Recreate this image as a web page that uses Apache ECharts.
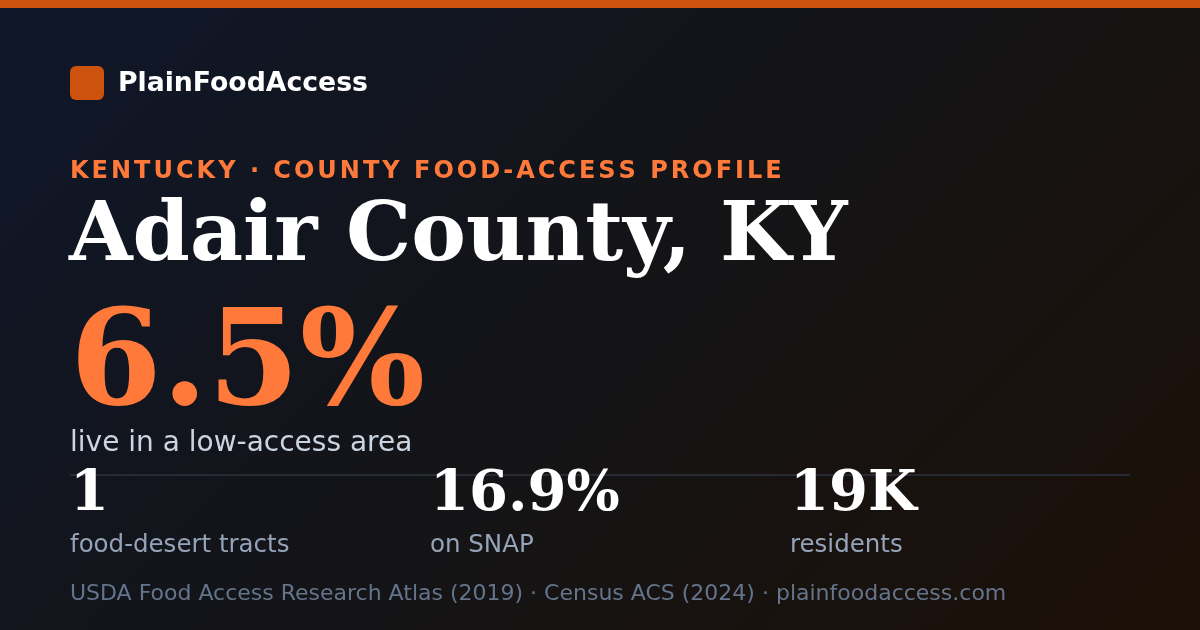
<!DOCTYPE html>
<html>
<head>
<meta charset="utf-8">
<title>Adair County, KY</title>
<script src="https://cdn.jsdelivr.net/npm/echarts@6/dist/echarts.min.js"></script>
<style>
  html, body { margin: 0; padding: 0; background: #0f172a; }
  #card { width: 1200px; height: 630px; }
</style>
</head>
<body>
<div id="card"></div>
<script>
// card content
var brandName = 'PlainFoodAccess';
var kickerText = 'KENTUCKY · COUNTY FOOD-ACCESS PROFILE';
var countyName = 'Adair County, KY';
var headlineValue = '6.5%';
var headlineLabel = 'live in a low-access area';
var statValues = ['1', '16.9%', '19K'];
var statLabels = ['food-desert tracts', 'on SNAP', 'residents'];
var sourceNote = 'USDA Food Access Research Atlas (2019) · Census ACS (2024) · plainfoodaccess.com';

var ORANGE = '#ff7a3a';
var BRAND_ORANGE = '#cc520e';
var SANS = '"DejaVu Sans", sans-serif';
var SERIF = '"DejaVu Serif", serif';

var chart = echarts.init(document.getElementById('card'), null, { renderer: 'canvas' });

// letter-spaced text: place every glyph as its own text element
function spacedText(str, x, y, font, spacing, color) {
    var ctx = document.createElement('canvas').getContext('2d');
    ctx.font = font;
    var out = [];
    var cx = x;
    for (var i = 0; i < str.length; i++) {
        var ch = str.charAt(i);
        if (ch !== ' ') {
            out.push({
                type: 'text', x: cx, y: y,
                style: { text: ch, font: font, fill: color, verticalAlign: 'middle', align: 'left' }
            });
        }
        cx += ctx.measureText(ch).width + spacing;
    }
    return out;
}

function txt(str, x, y, font, color) {
    return {
        type: 'text', x: x, y: y,
        style: { text: str, font: font, fill: color, verticalAlign: 'middle', align: 'left' }
    };
}

var elements = [
    { type: 'rect', shape: { x: 0, y: 0, width: 1200, height: 8 }, style: { fill: BRAND_ORANGE } },
    { type: 'rect', shape: { x: 70, y: 66, width: 34, height: 34, r: 6 }, style: { fill: BRAND_ORANGE } },
    txt(brandName, 118, 84, 'bold 26.7px ' + SANS, '#ffffff'),
    txt(countyName, 69, 239, 'bold 82px ' + SERIF, '#ffffff'),
    txt(headlineValue, 70, 370, 'bold 132px ' + SERIF, ORANGE),
    txt(headlineLabel, 70, 444, '28px ' + SANS, '#cbd5e1'),
    { type: 'line', shape: { x1: 70, y1: 475, x2: 1130, y2: 475 }, style: { stroke: '#262a33', lineWidth: 2 } },
    txt(sourceNote, 70, 594, '22px ' + SANS, '#64748b')
];
elements = elements.concat(spacedText(kickerText, 70, 171.5, 'bold 24px ' + SANS, 3.0, ORANGE));

for (var i = 0; i < statValues.length; i++) {
    var sx = 70 + i * 360;
    elements.push(txt(statValues[i], sx, 495.5, 'bold 56px ' + SERIF, '#ffffff'));
    elements.push(txt(statLabels[i], sx, 546, '24.5px ' + SANS, '#94a3b8'));
}

var option = {
    // 135deg page gradient, in pixel coordinates
    backgroundColor: {
        type: 'linear', global: true,
        x: 142, y: -142, x2: 1058, y2: 772,
        colorStops: [
            { offset: 0, color: '#0f172a' },
            { offset: 0.5, color: '#141417' },
            { offset: 1, color: '#1c1007' }
        ]
    },
    animation: false,
    graphic: { elements: elements }
};
chart.setOption(option);
</script>
</body>
</html>
